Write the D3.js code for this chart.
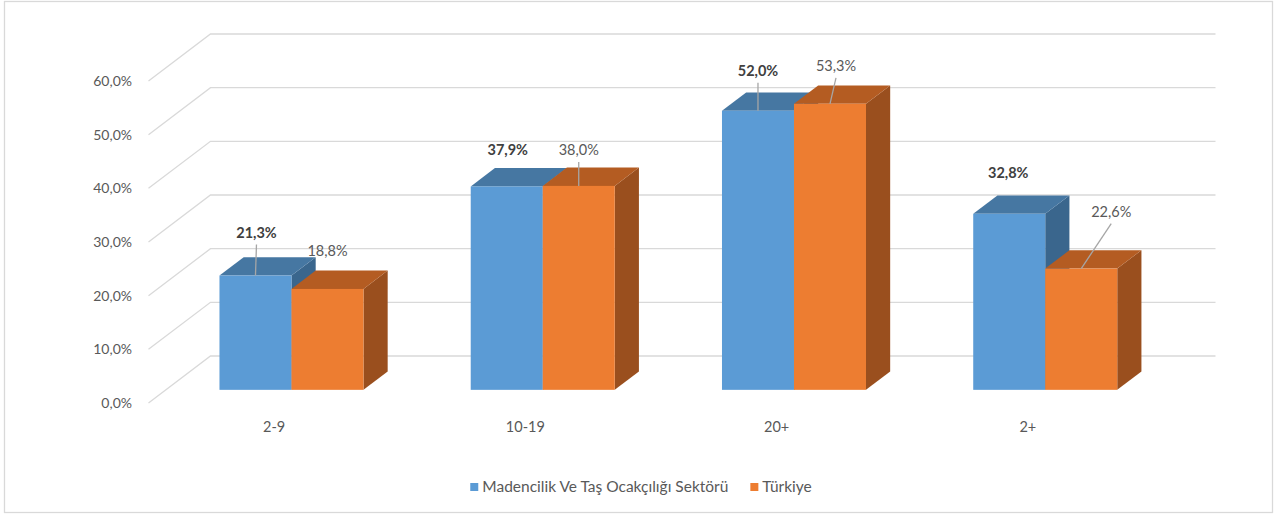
<!DOCTYPE html>
<html>
<head>
<meta charset="utf-8">
<script src="https://cdn.jsdelivr.net/npm/d3@7"></script>
<style>
  body { margin: 0; background: #fff; }
  svg text { font-family: Lato, "Open Sans", sans-serif; }
</style>
</head>
<body>
<div id="chart"></div>
<script>
// data
const categories = ["2-9", "10-19", "20+", "2+"];
const seriesNames = ["Madencilik Ve Taş Ocakçılığı Sektörü", "Türkiye"];
const sectorValues = [21.3, 37.9, 52.0, 32.8];
const turkeyValues = [18.8, 38.0, 53.3, 22.6];
const yTicks = [0, 10, 20, 30, 40, 50, 60];

// label placement (pixels from bar top centre), leader line flag
const labelLayout = [
  [{dx: 1, dy: -43, leader: true}, {dx: 0, dy: -38, leader: false}],
  [{dx: 1, dy: -37, leader: false}, {dx: 0, dy: -36, leader: true}],
  [{dx: 0, dy: -40, leader: true}, {dx: 6, dy: -38, leader: true}],
  [{dx: -1, dy: -41, leader: false}, {dx: 30, dy: -57, leader: true}]
];

const W = 1278, H = 515;
const colors = [
  {front: "#5B9BD5", top: "#4677A2", side: "#3A668D"},
  {front: "#ED7D31", top: "#B45C22", side: "#9A4F1E"}
];

const svg = d3.select("#chart").append("svg")
  .attr("width", W).attr("height", H);

// frame
svg.append("rect")
  .attr("x", 4.5).attr("y", 1.5)
  .attr("width", 1268).attr("height", 511)
  .attr("fill", "#fff").attr("stroke", "#d9d9d9").attr("stroke-width", 1.3);

// 3d frame geometry
const left = 148.5, floorW = 1005;
const wallDx = 62, wallDy = 47;     // front -> back offset
const barOff = 0.28, barDepth = 0.39; // bar position in depth (fraction)

const y = d3.scaleLinear().domain([0, 60]).range([403, 81]);
const x = d3.scaleBand().domain(categories).range([0, floorW]);
const series = d3.scaleBand().domain([0, 1]).range([0, 1]);

// gridlines: left wall diagonal + back wall
const grid = svg.append("g").attr("stroke", "#d9d9d9").attr("stroke-width", 1.3).attr("fill", "none");
yTicks.forEach(t => {
  const yf = y(t);
  grid.append("path")
    .attr("d", `M${left},${yf}L${left + wallDx},${yf - wallDy}L${left + wallDx + floorW},${yf - wallDy}`);
});

// y axis labels
svg.append("g").selectAll("text")
  .data(yTicks).enter().append("text")
  .attr("x", 132).attr("y", d => y(d))
  .attr("dy", "0.35em")
  .attr("text-anchor", "end")
  .attr("font-size", 14)
  .attr("fill", "#595959")
  .text(d => d.toFixed(1).replace(".", ",") + "%");

// category labels
svg.append("g").selectAll("text")
  .data(categories).enter().append("text")
  .attr("x", d => left + x(d) + x.bandwidth() / 2)
  .attr("y", 427)
  .attr("dy", "0.35em")
  .attr("text-anchor", "middle")
  .attr("font-size", 14.5)
  .attr("fill", "#595959")
  .text(d => d);

// bars
const bw = x.bandwidth() * 0.2866;
const fx = wallDx * barOff, fy = wallDy * barOff;
const tx = wallDx * barDepth, ty = wallDy * barDepth;
const allValues = [sectorValues, turkeyValues];

const bars = [];
categories.forEach((c, i) => {
  const g0 = left + fx + x(c) + (x.bandwidth() - 2 * bw) / 2;
  [0, 1].forEach(s => {
    const v = allValues[s][i];
    const x0 = g0 + series(s) * 2 * bw;
    bars.push({cat: i, s, v, x0, x1: x0 + bw, yt: y(v) - fy, yb: y(0) - fy});
  });
});

const barG = svg.append("g");
bars.forEach(b => {
  const c = colors[b.s];
  barG.append("path")
    .attr("d", `M${b.x1},${b.yt}L${b.x1 + tx},${b.yt - ty}L${b.x1 + tx},${b.yb - ty}L${b.x1},${b.yb}Z`)
    .attr("fill", c.side);
  barG.append("path")
    .attr("d", `M${b.x0},${b.yt}L${b.x0 + tx},${b.yt - ty}L${b.x1 + tx},${b.yt - ty}L${b.x1},${b.yt}Z`)
    .attr("fill", c.top);
  barG.append("rect")
    .attr("x", b.x0).attr("y", b.yt)
    .attr("width", bw).attr("height", b.yb - b.yt)
    .attr("fill", c.front);
});

// data labels
const labG = svg.append("g");
bars.forEach(b => {
  const lay = labelLayout[b.cat][b.s];
  const cx = (b.x0 + b.x1) / 2;
  const lx = cx + lay.dx, ly = b.yt + lay.dy;
  if (lay.leader) {
    labG.append("line")
      .attr("x1", lx).attr("y1", ly + 12)
      .attr("x2", cx).attr("y2", b.yt)
      .attr("stroke", "#a6a6a6").attr("stroke-width", 1.3);
  }
  labG.append("text")
    .attr("x", lx).attr("y", ly)
    .attr("dy", "0.35em")
    .attr("text-anchor", "middle")
    .attr("font-size", 14.5)
    .attr("font-weight", b.s === 0 ? "bold" : "normal")
    .attr("fill", b.s === 0 ? "#404040" : "#595959")
    .text(b.v.toFixed(1).replace(".", ",") + "%");
});

// legend
const legend = svg.append("g");
const items = legend.selectAll("g").data(seriesNames).enter().append("g");
items.append("rect")
  .attr("width", 8).attr("height", 8).attr("y", -4)
  .attr("fill", (d, i) => colors[i].front);
items.append("text")
  .attr("x", 12).attr("dy", "0.35em")
  .attr("font-size", 15.5)
  .attr("fill", "#595959")
  .text(d => d);
let lx = 0;
items.each(function () {
  d3.select(this).attr("transform", `translate(${lx},0)`);
  lx += this.getBBox().width + 22;
});
const legW = lx - 22;
legend.attr("transform", `translate(${(W - legW) / 2 + 2},487)`);
</script>
</body>
</html>
